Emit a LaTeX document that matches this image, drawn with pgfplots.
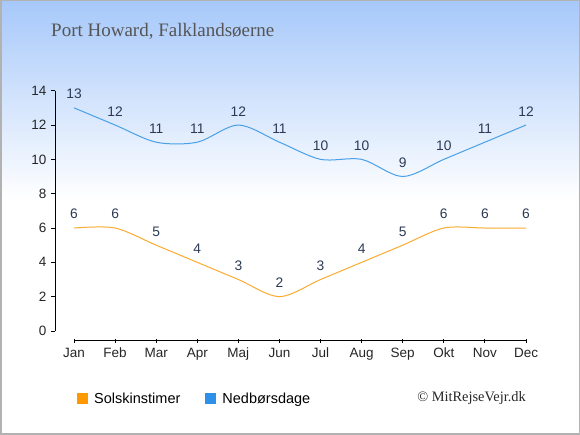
\documentclass[border=0pt]{standalone}
\usepackage{fontspec}
\setmainfont{Liberation Sans}
\newfontfamily\seriffont{Liberation Serif}
\usepackage{pgfplots}
\pgfplotsset{compat=1.18}
\definecolor{bgtop}{RGB}{166,200,250}
\definecolor{sunline}{RGB}{252,172,48}
\definecolor{rainline}{RGB}{72,160,232}
\definecolor{legorange}{RGB}{255,153,0}
\definecolor{legblue}{RGB}{46,144,232}
\definecolor{labelc}{RGB}{43,58,85}
\definecolor{titlec}{RGB}{85,85,85}
\definecolor{bordercol}{RGB}{178,178,178}
\begin{document}
\begin{tikzpicture}
\shade[top color=bgtop, bottom color=white] (0pt,235pt) rectangle (580pt,435pt);
\fill[white] (0pt,0pt) rectangle (580pt,235pt);
\begin{axis}[
  at={(55pt,94pt)}, anchor=south west,
  scale only axis, width=471pt, height=250.3pt,
  xmin=-0.4625, xmax=11, ymin=-0.582, ymax=14,
  axis line style={draw=none},
  xtick={0,...,11},
  xticklabels={Jan,Feb,Mar,Apr,Maj,Jun,Jul,Aug,Sep,Okt,Nov,Dec},
  ytick={0,2,...,14},
  tick style={black, line width=1pt},
  major tick length=4pt,
  xtick align=center, ytick align=outside,
  xtick pos=bottom, ytick pos=left,
  /pgf/number format/assume math mode=true,
  ticklabel style={font=\fontsize{13.5}{16}\selectfont, text=black!85},
  xticklabel style={inner sep=0pt, yshift=-5pt},
  yticklabel style={inner sep=0pt, xshift=-4.5pt},
  nodes near coords,
  every node near coord/.append style={font=\fontsize{13.8}{16}\selectfont, text=labelc, anchor=south, inner sep=0pt, yshift=8.4pt},
  clip=false,
  legend columns=2,
  legend style={at={(0.0467,-0.2317)}, anchor=west, draw=none, fill=none, inner sep=0pt,
    font=\fontsize{14.5}{17}\selectfont,
    nodes={inner sep=0pt},
    /tikz/every odd column/.append style={column sep=6pt},
    /tikz/every even column/.append style={column sep=25pt}},
  legend image code/.code={\fill[#1] (0pt,-5.5pt) rectangle (11pt,5.5pt);},
]
\draw[line width=1pt] (axis cs:-0.4625,0) -- (axis cs:-0.4625,14);
\draw[line width=1pt] (axis cs:0,-0.582) -- (axis cs:11,-0.582);
\addplot[smooth, color=sunline, line width=1pt, mark=none, forget plot] coordinates {
(0,6) (1,6) (2,5) (3,4) (4,3) (5,2) (6,3) (7,4) (8,5) (9,6) (10,6) (11,6)};
\addplot[smooth, color=rainline, line width=1pt, mark=none, forget plot] coordinates {
(0,13) (1,12) (2,11) (3,11) (4,12) (5,11) (6,10) (7,10) (8,9) (9,10) (10,11) (11,12)};
\addlegendimage{fill=legorange, draw=none}
\addlegendentry{Solskinstimer}
\addlegendimage{fill=legblue, draw=none}
\addlegendentry{Nedbørsdage}
\end{axis}
\node[anchor=base west, inner sep=0pt, text=titlec, font=\seriffont\fontsize{19}{22}\selectfont] at (51pt,398pt) {Port Howard, Falklandsøerne};
\node[anchor=base east, inner sep=0pt, text=black!85, font=\seriffont\fontsize{14.4}{16}\selectfont] at (526pt,33pt) {© MitRejseVejr.dk};
\draw[bordercol, line width=1.5pt] (0.75pt,0.75pt) rectangle (579.25pt,434.25pt);
\pgfresetboundingbox
\useasboundingbox (0pt,0pt) rectangle (580pt,435pt);
\end{tikzpicture}
\end{document}
